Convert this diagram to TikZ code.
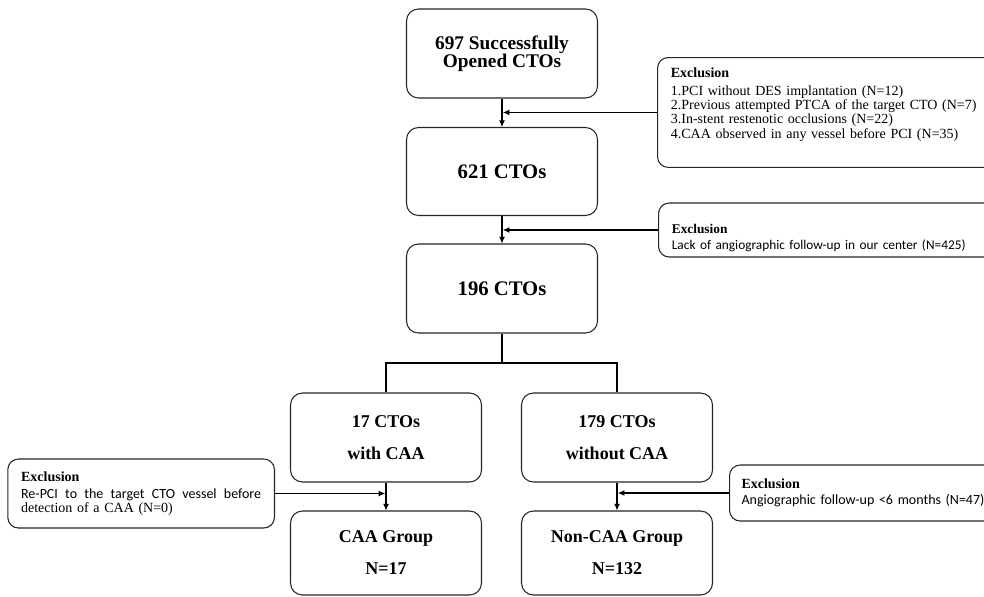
\documentclass[tikz,border=0pt]{standalone}
\usepackage{fontspec}
\setmainfont{Liberation Serif}
\newfontfamily\calibri{Carlito}
\usetikzlibrary{arrows.meta,positioning}
\newcommand{\excl}{{\rmfamily\bfseries Exclusion}}

\begin{document}
\begin{tikzpicture}[x=0.75pt,y=-0.75pt,>={Latex[length=5pt,width=4.5pt]},
  line width=0.8pt,
  cto/.style={draw=black!85, rounded corners=9pt, minimum width=143.25pt,
    minimum height=66.75pt, align=center},
  exbox/.style={draw=black!85, rounded corners=8pt, align=left, inner xsep=10pt}]
  \path[use as bounding box, fill=white] (0,0) rectangle (984,596);
% main flow
  \node[cto, font=\bfseries\fontsize{14.5}{13.5}\selectfont] (opened) at (502,53.5) {697 Successfully\\Opened CTOs};
  \node[cto, minimum height=66pt, font=\bfseries\fontsize{15.5}{18}\selectfont] (ctoa) at (502,171.5) {621 CTOs};
  \node[cto, font=\bfseries\fontsize{15.5}{18}\selectfont] (ctob) at (502,288.5) {196 CTOs};
  \node[cto, font=\bfseries\fontsize{13.5}{24}\selectfont] (withcaa) at (386,437.5) {17 CTOs\\with CAA};
  \node[cto, font=\bfseries\fontsize{13.5}{24}\selectfont] (nocaa) at (617,437.5) {179 CTOs\\without CAA};
  \node[cto, minimum height=63pt, font=\bfseries\fontsize{13.5}{24}\selectfont] (caagrp) at (386,553) {CAA Group\\N=17};
  \node[cto, minimum height=63pt, font=\bfseries\fontsize{13.5}{24}\selectfont] (noncaagrp) at (617,553) {Non-CAA Group\\N=132};
% exclusions
  \node[exbox, anchor=north west, text width=250pt, inner ysep=8pt, font=\fontsize{10.5}{9.3}\selectfont] (excla) at (657,57)
    {\excl\\[4pt]1.PCI without DES implantation (N=12)\\2.Previous attempted PTCA of the target CTO (N=7)\\3.In-stent restenotic occlusions (N=22)\\4.CAA observed in any vessel before PCI (N=35)\rule[-14pt]{0pt}{0pt}};
  \node[exbox, anchor=west, text width=250pt, minimum height=40.5pt, font=\calibri\fontsize{10}{12}\selectfont] (exclb) at (658,230)
    {\rule{0pt}{19pt}\excl\\Lack of angiographic follow-up in our center (N=425)};
  \node[exbox, anchor=east, text width=180pt, minimum height=51.75pt, font=\fontsize{10.5}{10}\selectfont] (exclc) at (275,493.5)
    {\excl\\[3pt]\makebox[180pt][l]{\calibri Re-PCI\hfill to\hfill the\hfill target\hfill CTO\hfill vessel\hfill before}\\detection of a CAA (N=0)};
  \node[exbox, anchor=west, text width=250pt, minimum height=42pt, inner xsep=9pt, font=\calibri\fontsize{10.5}{12}\selectfont] (excld) at (729,493)
    {\excl\\Angiographic follow-up <6 months (N=47)};
% connectors
  \draw[->] (opened) -- (ctoa);
  \draw[->] (excla.west) -- ([xshift=0.6pt]excla.west -| opened.south);
  \draw[->] (ctoa) -- (ctob);
  \draw[->] (exclb.west) -- ([xshift=0.6pt]exclb.west -| ctoa.south);
  \coordinate (split) at (502,363);
  \draw (ctob) -- (split);
  \draw (withcaa.north) |- (split) -| (nocaa.north);
  \draw[->] (withcaa) -- (caagrp);
  \draw[->] (exclc.east) -- ([xshift=-0.6pt]exclc.east -| withcaa.south);
  \draw[->] (nocaa) -- (noncaagrp);
  \draw[->] (excld.west) -- ([xshift=0.6pt]excld.west -| nocaa.south);
\end{tikzpicture}
\end{document}
